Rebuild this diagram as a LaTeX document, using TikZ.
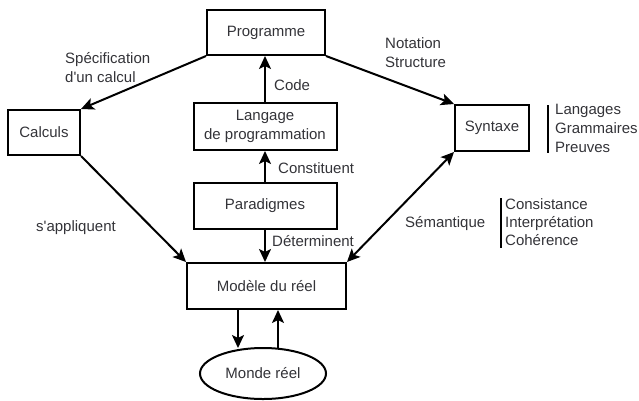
\documentclass[tikz,border=0pt]{standalone}
\usepackage{fontspec}
\setmainfont{Liberation Sans}
\usetikzlibrary{arrows.meta,shapes.geometric,calc}
\definecolor{txt}{rgb}{0.2,0.2,0.22}
\begin{document}
\begin{tikzpicture}[x=1pt,y=-1pt,
  box/.style={draw, line width=2pt, inner sep=0pt, align=center, text=txt, font=\fontsize{15}{19}\selectfont},
  lbl/.style={inner sep=0pt, anchor=west, align=left, text=txt, font=\fontsize{15}{19}\selectfont},
  arr/.style={line width=2pt, -{Stealth[length=13pt,width=12pt,inset=3pt]}},
  arrboth/.style={line width=2pt, {Stealth[length=13pt,width=12pt,inset=3pt]}-{Stealth[length=13pt,width=12pt,inset=3pt]}},
  barline/.style={line width=2pt}]
\useasboundingbox (0,0) rectangle (639,400);
% boxes
\node[box, minimum width=118pt, minimum height=45pt] (prog) at (266,32.5) {Programme};
\node[box, minimum width=72pt, minimum height=45pt] (calc) at (44,132.5) {Calculs};
\node[box, minimum width=143pt, minimum height=47pt] (lang) at (265,126.5) {Langage\\de programmation};
\node[box, minimum width=143pt, minimum height=46pt] (para) at (265,206) {Paradigmes};
\node[box, minimum width=159pt, minimum height=46pt] (mod) at (266.5,286) {Modèle du réel};
\node[box, minimum width=74pt, minimum height=46pt] (syn) at (492,128) {Syntaxe};
\node[box, ellipse, minimum width=126pt, minimum height=51pt] (monde) at (263,373.5) {Monde réel};
% connectors
\draw[arr] (lang.north) -- (lang.north |- prog.south);
\draw[arr] (para.north) -- (para.north |- lang.south);
\draw[arr] (para.south) -- (para.south |- mod.north);
\draw[arr] (prog.south west) -- (calc.north east);
\draw[arr] (calc.south east) -- (mod.north west);
\draw[arr] (prog.south east) -- (syn.north west);
\draw[arrboth] (syn.south west) -- (mod.north east);
\coordinate (mdown) at ($(mod.south)+(-28.5,0)$);
\coordinate (mup) at ($(mod.south)+(11.5,0)$);
\draw[arr] (mdown) -- ($(mdown |- monde.north)+(0,1)$);
\draw[arr] ($(mup |- monde.north)+(0,1)$) -- (mup);
% labels
\node[lbl] (l1) at (65,68) {Spécification\\d\textquotesingle un calcul};
\node[lbl] (l2) at (274,85) {Code};
\node[lbl] (l3) at (278,168) {Constituent};
\node[lbl] (l4) at (272,241) {Déterminent};
\node[lbl] (l5) at (36,228) {s\textquotesingle appliquent};
\node[lbl] (l6) at (385,53) {Notation\\Structure};
\node[lbl] (l7) at (405,224) {Sémantique};
\node[lbl, font=\fontsize{15}{18}\selectfont] (l8) at (505,222) {Consistance\\Interprétation\\Cohérence};
\node[lbl] (l9) at (555,128) {Langages\\Grammaires\\Preuves};
% bars
\coordinate (b1a) at (501,198);
\coordinate (b1b) at (501,248);
\coordinate (b2a) at (548,105);
\coordinate (b2b) at (548,153);
\draw[barline] (b1a) -- (b1b);
\draw[barline] (b2a) -- (b2b);
\end{tikzpicture}
\end{document}
